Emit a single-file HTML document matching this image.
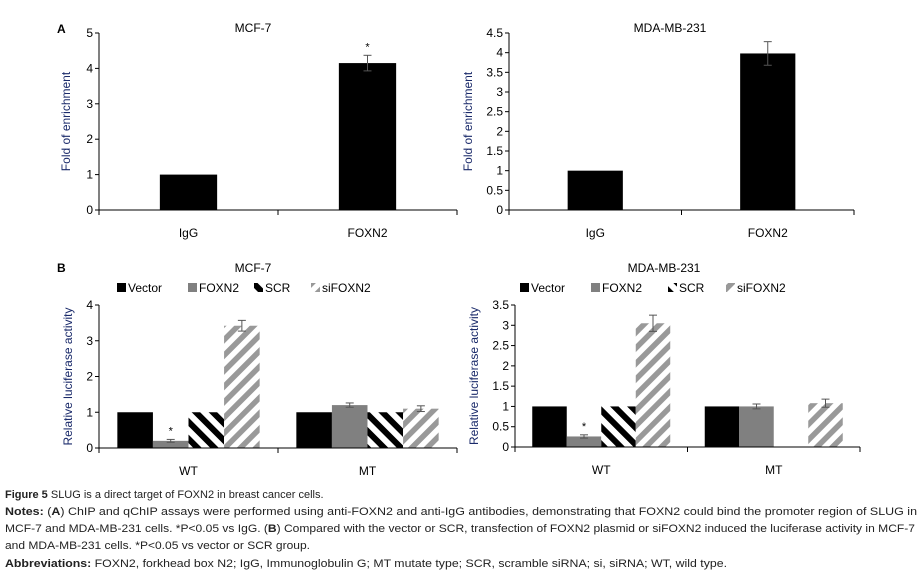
<!DOCTYPE html>
<html><head><meta charset="utf-8"><style>
body{margin:0;background:#fff;width:922px;height:576px;overflow:hidden}
svg{display:block;font-family:"Liberation Sans",sans-serif}
</style></head><body>
<svg id="s" width="922" height="576">
<defs>
<pattern id="scr" width="12" height="12" patternUnits="userSpaceOnUse" patternTransform="rotate(-45)"><rect width="12" height="12" fill="#fff"/><rect width="6" height="12" fill="#000"/></pattern>
<pattern id="si" width="11" height="11" patternUnits="userSpaceOnUse" patternTransform="rotate(45)"><rect width="11" height="11" fill="#fff"/><rect width="5.5" height="11" fill="#999"/></pattern>
</defs>
<g id="cap" font-size="11" fill="#222">
<text x="5" y="498"><tspan font-weight="bold">Figure 5</tspan> SLUG is a direct target of FOXN2 in breast cancer cells.</text>
<text x="5" y="515" textLength="912" lengthAdjust="spacingAndGlyphs"><tspan font-weight="bold">Notes:</tspan> (<tspan font-weight="bold">A</tspan>) ChIP and qChIP assays were performed using anti-FOXN2 and anti-IgG antibodies, demonstrating that FOXN2 could bind the promoter region of SLUG in</text>
<text x="5" y="532" textLength="910" lengthAdjust="spacingAndGlyphs">MCF-7 and MDA-MB-231 cells. *P&lt;0.05 vs IgG. (<tspan font-weight="bold">B</tspan>) Compared with the vector or SCR, transfection of FOXN2 plasmid or siFOXN2 induced the luciferase activity in MCF-7</text>
<text x="5" y="549" textLength="305" lengthAdjust="spacingAndGlyphs">and MDA-MB-231 cells. *P&lt;0.05 vs vector or SCR group.</text>
<text x="5" y="567" textLength="722" lengthAdjust="spacingAndGlyphs"><tspan font-weight="bold">Abbreviations:</tspan> FOXN2, forkhead box N2; IgG, Immunoglobulin G; MT mutate type; SCR, scramble siRNA; si, siRNA; WT, wild type.</text>
</g>
<text x="57" y="33" font-size="12" font-weight="bold">A</text>
<text x="57" y="272" font-size="12" font-weight="bold">B</text>
</svg>
<script>
const aCats=["IgG","FOXN2"];
const aMcfVals=[1,4.15];
const aMcfErr=[0,0.22];
const aMdaVals=[1,3.98];
const aMdaErr=[0,0.3];
const aMcfTicks=[0,1,2,3,4,5];
const aMdaTicks=[0,0.5,1,1.5,2,2.5,3,3.5,4,4.5];
const bCats=["WT","MT"];
const bSeries=["Vector","FOXN2","SCR","siFOXN2"];
const bMcfVector=[1,1];
const bMcfFoxn2=[0.2,1.2];
const bMcfScr=[1,1];
const bMcfSi=[3.42,1.1];
const bMcfErr=[[0,0],[0.04,0.06],[0,0],[0.15,0.08]];
const bMdaVector=[1,1];
const bMdaFoxn2=[0.26,1];
const bMdaScr=[1,0];
const bMdaSi=[3.05,1.08];
const bMdaErr=[[0,0],[0.04,0.06],[0,0],[0.2,0.1]];
const bMcfTicks=[0,1,2,3,4];
const bMdaTicks=[0,0.5,1,1.5,2,2.5,3,3.5];

const NS="http://www.w3.org/2000/svg";
const svg=document.getElementById('s');
function mk(tag,at,parent){const e=document.createElementNS(NS,tag);for(const k in at)e.setAttribute(k,at[k]);(parent||svg).appendChild(e);return e;}

function chart(o){
  const g=mk('g',{});
  
  
  const max=o.ticks[o.ticks.length-1];
  const y=v=>o.y0-(o.y0-o.yTop)*v/max;
  const gw=(o.x1-o.x0)/o.cats.length;
  const fills=o.fills;
  const ns=o.series.length;
  const bw=gw*o.bf/ns;
  const t=mk('text',{x:o.titleX,y:o.titleY,'font-size':12,'text-anchor':'middle'},g);t.textContent=o.title;
  
  const yl=mk('text',{transform:`translate(${o.ylX},${(o.y0+o.yTop)/2}) rotate(-90)`,'font-size':12,'text-anchor':'middle',fill:'#1a2a6a'},g);yl.textContent=o.ylabel;
  
  o.cats.forEach((c,ci)=>{
    const gx=o.x0+gw*ci+gw*(1-o.bf)/2;
    for(let si=0;si<ns;si++){
      const v=o.vals[si][ci];if(!v)continue;
      const bx=gx+bw*si;
      const r=mk('rect',{x:bx,y:y(v),width:bw,height:o.y0-y(v),fill:fills[si]},g);
      
      
      const e=o.err[si][ci];
      if(e>0){const cx=bx+bw/2;
        mk('line',{x1:cx,x2:cx,y1:y(v+e),y2:y(v-e),stroke:'#555'},g);
        mk('line',{x1:cx-4,x2:cx+4,y1:y(v+e),y2:y(v+e),stroke:'#555'},g);
        mk('line',{x1:cx-4,x2:cx+4,y1:y(v-e),y2:y(v-e),stroke:'#555'},g);}
      if(o.star&&o.star[0]===si&&o.star[1]===ci){
        const st=mk('text',{x:bx+bw/2,y:y(v+e)-5,'font-size':11,'text-anchor':'middle'},g);st.textContent='*';
        }
    }
    const xl=mk('text',{x:o.x0+gw*(ci+0.5),y:o.y0+27,'font-size':12,'text-anchor':'middle'},g);xl.textContent=c;
    
  });
  mk('line',{x1:o.x0,x2:o.x0,y1:o.yTop,y2:o.y0,stroke:'#000'},g);
  mk('line',{x1:o.x0,x2:o.x1,y1:o.y0,y2:o.y0,stroke:'#000'},g);
  for(let i=0;i<=o.cats.length;i++){const xx=o.x0+gw*i;mk('line',{x1:xx,x2:xx,y1:o.y0,y2:o.y0+5,stroke:'#000'},g);}
  o.ticks.forEach(tv=>{
    mk('line',{x1:o.x0-4,x2:o.x0,y1:y(tv),y2:y(tv),stroke:'#000'},g);
    const tl=mk('text',{x:o.x0-6,y:y(tv)+4,'font-size':12,'text-anchor':'end'},g);tl.textContent=tv;
    
  });
  if(o.legend){
    o.series.forEach((s,si)=>{
      const lx=o.legend[si];
      const sw=mk('rect',{x:lx,y:o.legY-9,width:9,height:9,fill:fills[si]},g);
      
      const lt=mk('text',{x:lx+11,y:o.legY,'font-size':12},g);lt.textContent=s;
      
    });
  }
}
chart({name:'chart-a-mcf7',title:'MCF-7',titleX:253,titleY:32,ylabel:'Fold of enrichment',ylX:70,x0:99,x1:457,y0:210,yTop:33,ticks:aMcfTicks,cats:aCats,series:['Value'],vals:[aMcfVals],err:[aMcfErr],fills:['#000'],bf:0.32,star:[0,1]});
chart({name:'chart-a-mda',title:'MDA-MB-231',titleX:670,titleY:32,ylabel:'Fold of enrichment',ylX:472,x0:509,x1:854,y0:210,yTop:33,ticks:aMdaTicks,cats:aCats,series:['Value'],vals:[aMdaVals],err:[aMdaErr],fills:['#000'],bf:0.32});
chart({name:'chart-b-mcf7',title:'MCF-7',titleX:253,titleY:272,ylabel:'Relative luciferase activity',ylX:72,x0:99,x1:457,y0:448,yTop:305,ticks:bMcfTicks,cats:bCats,series:bSeries,vals:[bMcfVector,bMcfFoxn2,bMcfScr,bMcfSi],err:bMcfErr,fills:['#000','#808080','url(#scr)','url(#si)'],bf:0.795,star:[1,0],legend:[117,188,254,311],legY:292});
chart({name:'chart-b-mda',title:'MDA-MB-231',titleX:664,titleY:272,ylabel:'Relative luciferase activity',ylX:478,x0:515,x1:860,y0:447,yTop:305,ticks:bMdaTicks,cats:bCats,series:bSeries,vals:[bMdaVector,bMdaFoxn2,bMdaScr,bMdaSi],err:bMdaErr,fills:['#000','#808080','url(#scr)','url(#si)'],bf:0.8,star:[1,0],legend:[520,591,668,726],legY:292});
</script>
</body></html>
